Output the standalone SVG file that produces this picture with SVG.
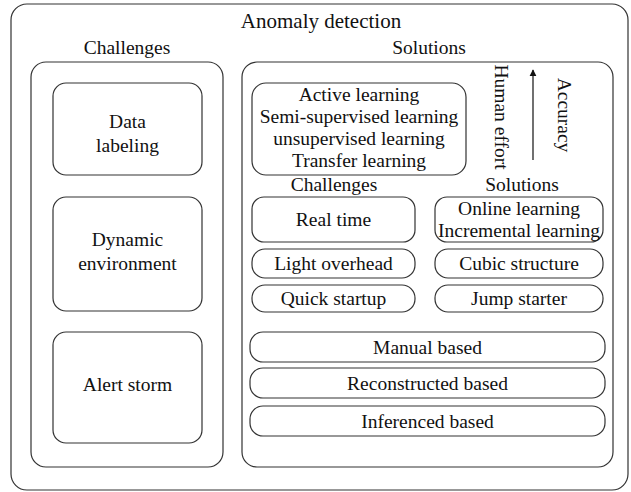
<svg xmlns="http://www.w3.org/2000/svg" width="631" height="492" viewBox="0 0 631 492">
  <style>
    .box { fill: #ffffff; stroke: #333333; stroke-width: 1.2; }
    .t { font-family: "Liberation Serif", "Times New Roman", serif; fill: #111111; text-anchor: middle; }
    .h { font-size: 21px; }
    .s { font-size: 19.5px; }
  </style>
  <defs>
    <marker id="arrowHead" viewBox="0 0 10 10" refX="9" refY="5" markerWidth="7" markerHeight="8" orient="auto" markerUnits="userSpaceOnUse">
      <path d="M0,0 L10,5 L0,10 Z" fill="#111111"/>
    </marker>
  </defs>

  <rect width="631" height="492" fill="#ffffff"/>

  <!-- outer frame -->
  <g id="anomaly-detection">
    <rect class="box" x="11" y="4" width="617" height="486" rx="16"/>
    <text class="t h" x="321" y="28">Anomaly detection</text>
  </g>

  <!-- challenges column -->
  <g id="challenges">
    <text class="t s" x="127" y="54">Challenges</text>
    <rect class="box" x="31" y="62" width="192" height="405" rx="15"/>
  </g>
  <g id="data-labeling">
    <rect class="box" x="53" y="83" width="149" height="92" rx="13"/>
    <text class="t s" x="127.5" y="128">Data</text>
    <text class="t s" x="127.5" y="152">labeling</text>
  </g>
  <g id="dynamic-environment">
    <rect class="box" x="53" y="197" width="149" height="114" rx="13"/>
    <text class="t s" x="127.5" y="246">Dynamic</text>
    <text class="t s" x="127.5" y="270">environment</text>
  </g>
  <g id="alert-storm">
    <rect class="box" x="53" y="332" width="149" height="111" rx="13"/>
    <text class="t s" x="127.5" y="391">Alert storm</text>
  </g>

  <!-- solutions column -->
  <g id="solutions">
    <text class="t s" x="429" y="54">Solutions</text>
    <rect class="box" x="242" y="62" width="371" height="405" rx="15"/>
  </g>
  <g id="learning-methods">
    <rect class="box" x="252" y="83" width="214" height="92" rx="14"/>
    <text class="t s" x="359" y="101">Active learning</text>
    <text class="t s" x="359" y="123">Semi-supervised learning</text>
    <text class="t s" x="359" y="145">unsupervised learning</text>
    <text class="t s" x="359" y="167">Transfer learning</text>
  </g>
  <g id="human-effort">
    <text class="t s" transform="translate(495,117) rotate(90)">Human effort</text>
  </g>
  <g id="accuracy">
    <text class="t s" transform="translate(558,115) rotate(90)">Accuracy</text>
  </g>

  <g id="sub-challenges">
    <text class="t s" x="334" y="191">Challenges</text>
  </g>
  <g id="sub-solutions">
    <text class="t s" x="522" y="191">Solutions</text>
  </g>

  <g id="real-time">
    <rect class="box" x="252" y="197" width="163" height="45" rx="12"/>
    <text class="t s" x="333.5" y="226">Real time</text>
  </g>
  <g id="online-learning">
    <rect class="box" x="435" y="197" width="168" height="45" rx="12"/>
    <text class="t s" x="519" y="215">Online learning</text>
    <text class="t s" x="519" y="237">Incremental learning</text>
  </g>
  <g id="light-overhead">
    <rect class="box" x="252" y="249" width="163" height="29" rx="13"/>
    <text class="t s" x="333.5" y="270">Light overhead</text>
  </g>
  <g id="cubic-structure">
    <rect class="box" x="435" y="249" width="168" height="29" rx="13"/>
    <text class="t s" x="519" y="270">Cubic structure</text>
  </g>
  <g id="quick-startup">
    <rect class="box" x="252" y="285" width="163" height="27" rx="13"/>
    <text class="t s" x="333.5" y="305">Quick startup</text>
  </g>
  <g id="jump-starter">
    <rect class="box" x="435" y="285" width="168" height="27" rx="13"/>
    <text class="t s" x="519" y="305">Jump starter</text>
  </g>

  <g id="manual-based">
    <rect class="box" x="250" y="332" width="355" height="30" rx="13"/>
    <text class="t s" x="427.5" y="354">Manual based</text>
  </g>
  <g id="reconstructed-based">
    <rect class="box" x="250" y="368" width="355" height="30" rx="13"/>
    <text class="t s" x="427.5" y="390">Reconstructed based</text>
  </g>
  <g id="inferenced-based">
    <rect class="box" x="250" y="406" width="355" height="30" rx="13"/>
    <text class="t s" x="427.5" y="428">Inferenced based</text>
  </g>

  <!-- connectors -->
  <g id="connectors">
    <line x1="533" y1="160" x2="533" y2="70" stroke="#111111" stroke-width="1.2" marker-end="url(#arrowHead)"/>
  </g>
</svg>
